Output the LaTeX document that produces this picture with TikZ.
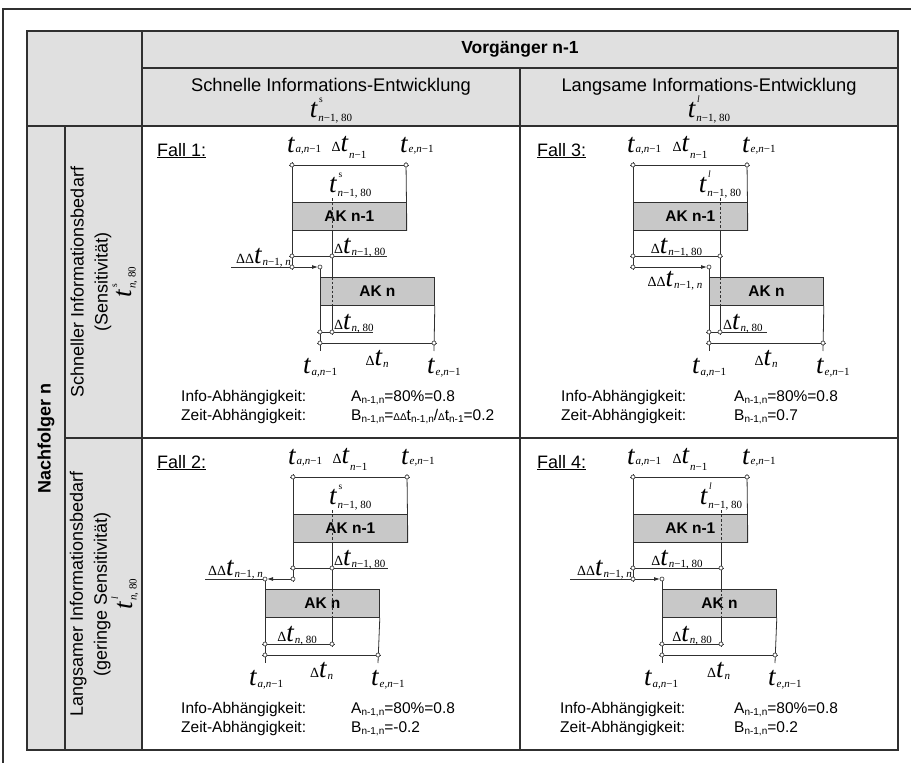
\documentclass[tikz,border=0pt]{standalone}
\usepackage{fontspec}
\setmainfont{Liberation Sans}
\newfontfamily\tms{Liberation Serif}
\usetikzlibrary{arrows.meta}

\definecolor{hdrgray}{HTML}{E0E0E0}
\definecolor{akgray}{HTML}{C8C8C8}
\definecolor{ink}{HTML}{303030}

\newcommand\fs[1]{\fontsize{#1}{#1}\selectfont}
\newcommand\sit[1]{{\itshape #1}}
% time symbol: [subscript drop]{prefix}{superscript}{subscript}
\newcommand\tsym[4][2pt]{\mbox{{\tms\fs{14}#2}{\tms\fs{27}\itshape t}\kern1pt\makebox[0pt][l]{\kern0.8pt\raisebox{14.5pt}{\tms\fs{9.5}#3}}\raisebox{-#1}{\tms\fs{11}#4}}}
\newcommand\ssub[1]{\raisebox{-2.5pt}{\fs{10}#1}}

\tikzset{
  tabline/.style={draw=ink, line width=1.2pt},
  ln/.style={draw=ink, line width=0.8pt},
  dsh/.style={ln, dash pattern=on 2.5pt off 2pt},
  akbox/.style={draw=ink, fill=akgray, line width=0.8pt, minimum width=114pt,
    minimum height=28pt, inner sep=0pt, anchor=north west, font=\fs{15.5}\bfseries},
  endpt/.style={circle, draw=ink, fill=white, inner sep=0pt, minimum size=4pt, line width=0.6pt},
  sym/.style={inner sep=0pt, anchor=base west},
  symc/.style={inner sep=0pt, anchor=base},
  syme/.style={inner sep=0pt, anchor=base east},
  txt/.style={inner sep=0pt, anchor=base west, font=\fs{15.5}},
  fall/.style={inner sep=0pt, anchor=base west, font=\fs{18}},
  hd/.style={inner sep=0pt, font=\fs{18.3}},
  arr/.style={ln, -{Latex[length=6pt,width=4pt]}, shorten >=2pt},
}

\begin{document}
\begin{tikzpicture}[x=1pt,y=-1pt]
\useasboundingbox (0,0) rectangle (911,763);

% outer frame
\draw[tabline] (3,763) -- (3,9) -- (911,9);

% table background and grid
\fill[hdrgray] (27,31) rectangle (898,126);
\fill[hdrgray] (27,126) rectangle (142,750);
\draw[tabline] (27,31) rectangle (898,750);
\draw[tabline] (142,68) -- (898,68);
\draw[tabline] (27,126) -- (898,126);
\draw[tabline] (65,438) -- (898,438);
\draw[tabline] (142,31) -- (142,750);
\draw[tabline] (520,68) -- (520,750);
\draw[tabline] (65,126) -- (65,750);

% column headings
\node[hd, font=\fs{17.5}\bfseries] (vg) at (520,49.5) {Vorgänger n-1};
\node[hd] (cs) at (331,87) {Schnelle Informations-Entwicklung};
\node[hd] (cl) at (709,87) {Langsame Informations-Entwicklung};
\node[symc] (cst) at (331,117) {\tsym[4pt]{}{s}{\sit{n}−1, 80}};
\node[symc] (clt) at (709,117) {\tsym[4pt]{}{\sit{l}}{\sit{n}−1, 80}};

% row headings
\node[rotate=90, inner sep=0pt, font=\fs{18}\bfseries] (nf) at (46,438) {Nachfolger n};
\node[rotate=90, inner sep=0pt, align=center, font=\fontsize{18}{24}\selectfont] (rs) at (104,282)
  {Schneller Informationsbedarf\\(Sensitivität)\\\tsym[4pt]{}{s}{\sit{n}, 80}};
\node[rotate=90, inner sep=0pt, align=center, font=\fontsize{18}{24}\selectfont] (rl) at (104,594)
  {Langsamer Informationsbedarf\\(geringe Sensitivität)\\\tsym[4pt]{}{\sit{l}}{\sit{n}, 80}};

%% ---------------- Fall 1 ----------------
\begin{scope}[shift={(142,126)}]
\coordinate (a1t) at (150,39);  \coordinate (b1t) at (264,39);
\coordinate (a1m) at (150,130); \coordinate (d1m) at (190,130); \coordinate (u1m) at (245,130);
\coordinate (l1a) at (89,141);  \coordinate (a1a) at (150,141); \coordinate (c1a) at (178,141);
\coordinate (d1top) at (190,72);
\coordinate (c1n) at (178,206); \coordinate (d1n) at (190,206); \coordinate (u1n) at (231,206);
\coordinate (c1b) at (178,217); \coordinate (e1b) at (292,217);
\node[akbox] (ak11) at (150,76) {AK n-1};
\node[akbox] (ak12) at (178,151) {AK n};
\draw[ln] ([xshift=-3pt]a1t) -- ([xshift=3pt]b1t);
\draw[ln] ([yshift=3pt]a1t) -- ([yshift=-3pt]a1a);
\draw[ln] ([yshift=3pt]b1t) -- (ak11.south east);
\draw[dsh] (d1top) -- (d1top |- ak11.south);
\draw[ln] (d1top |- ak11.south) -- (d1top |- ak12.north);
\draw[dsh] (d1top |- ak12.north) -- (d1top |- ak12.south);
\draw[ln] (d1top |- ak12.south) -- ([yshift=-3pt]d1n);
\draw[ln] ([xshift=-3pt]a1m) -- (u1m);
\draw[arr] (l1a) -- (c1a);
\draw[ln] (c1a) -- ([yshift=-8pt]c1b);
\draw[ln] (ak12.south east) -- ([yshift=-8pt]e1b);
\draw[ln] ([xshift=-3pt]c1n) -- (u1n);
\draw[ln] ([xshift=-3pt]c1b) -- ([xshift=3pt]e1b);
\foreach \p in {a1t,b1t,a1m,d1m,a1a,c1a,c1n,d1n,c1b,e1b} \node[endpt] (\p o) at (\p) {};
\node[fall] (f1) at (15,30) {\underline{Fall 1:}};
\node[sym] (ta1) at (145,26) {\tsym[0pt]{}{}{\sit{a,n}−1}};
\node[symc] (dt1) at (207,25) {\tsym[7pt]{Δ}{}{\sit{n}−1}};
\node[sym] (te1) at (258,26) {\tsym[0pt]{}{}{\sit{e,n}−1}};
\node[sym] (ts1) at (187,66) {\tsym[4pt]{}{s}{\sit{n}−1, 80}};
\node[sym] (dm1) at (192,127) {\tsym{Δ}{}{\sit{n}−1, 80}};
\node[syme] (dd1) at (149,137) {\tsym{ΔΔ}{}{\sit{n}−1, \sit{n}}};
\node[sym] (dn1) at (192,203) {\tsym{Δ}{}{\sit{n}, 80}};
\node[sym] (ba1) at (161,247) {\tsym{}{}{\sit{a,n}−1}};
\node[symc] (bd1) at (235,239) {\tsym{Δ}{}{\sit{n}}};
\node[sym] (be1) at (285,247) {\tsym{}{}{\sit{e,n}−1}};
\node[txt] (i1) at (39,275) {Info-Abhängigkeit:};
\node[txt] (z1) at (39,294) {Zeit-Abhängigkeit:};
\node[txt] (iv1) at (209,275) {A\ssub{n-1,n}=80\%=0.8};
\node[txt] (zv1) at (209,294) {B\ssub{n-1,n}={\fs{10}ΔΔ}t\ssub{n-1,n}/{\fs{10}Δ}t\ssub{n-1}=0.2};
\end{scope}

%% ---------------- Fall 3 ----------------
\begin{scope}[shift={(520,126)}]
\coordinate (a3t) at (113,39);  \coordinate (b3t) at (227,39);
\coordinate (a3m) at (113,130); \coordinate (d3m) at (200,130);
\coordinate (a3a) at (113,141); \coordinate (c3a) at (189,141);
\coordinate (d3top) at (200,72);
\coordinate (c3n) at (189,206); \coordinate (d3n) at (200,206); \coordinate (u3n) at (247,206);
\coordinate (c3b) at (189,217); \coordinate (e3b) at (303,217);
\node[akbox] (ak31) at (113,76) {AK n-1};
\node[akbox] (ak32) at (189,151) {AK n};
\draw[ln] ([xshift=-3pt]a3t) -- ([xshift=3pt]b3t);
\draw[ln] ([yshift=3pt]a3t) -- ([yshift=-3pt]a3a);
\draw[ln] ([yshift=3pt]b3t) -- (ak31.south east);
\draw[dsh] (d3top) -- (d3top |- ak31.south);
\draw[ln] (d3top |- ak31.south) -- (d3top |- ak32.north);
\draw[dsh] (d3top |- ak32.north) -- (d3top |- ak32.south);
\draw[ln] (d3top |- ak32.south) -- ([yshift=-3pt]d3n);
\draw[ln] ([xshift=-3pt]a3m) -- ([xshift=3pt]d3m);
\draw[arr] ([xshift=-3pt]a3a) -- (c3a);
\draw[ln] (c3a) -- ([yshift=-8pt]c3b);
\draw[ln] (ak32.south east) -- ([yshift=-8pt]e3b);
\draw[ln] ([xshift=-3pt]c3n) -- (u3n);
\draw[ln] ([xshift=-3pt]c3b) -- ([xshift=3pt]e3b);
\foreach \p in {a3t,b3t,a3m,d3m,a3a,c3a,c3n,d3n,c3b,e3b} \node[endpt] (\p o) at (\p) {};
\node[fall] (f3) at (17,30) {\underline{Fall 3:}};
\node[sym] (ta3) at (107,26) {\tsym[0pt]{}{}{\sit{a,n}−1}};
\node[symc] (dt3) at (170,25) {\tsym[7pt]{Δ}{}{\sit{n}−1}};
\node[sym] (te3) at (222,26) {\tsym[0pt]{}{}{\sit{e,n}−1}};
\node[symc] (ts3) at (200,66) {\tsym[4pt]{}{\sit{l}}{\sit{n}−1, 80}};
\node[symc] (dm3) at (156.5,127) {\tsym{Δ}{}{\sit{n}−1, 80}};
\node[symc] (dd3) at (155,160) {\tsym{ΔΔ}{}{\sit{n}−1, \sit{n}}};
\node[sym] (dn3) at (203,203) {\tsym{Δ}{}{\sit{n}, 80}};
\node[sym] (ba3) at (172,247) {\tsym{}{}{\sit{a,n}−1}};
\node[symc] (bd3) at (246,239) {\tsym{Δ}{}{\sit{n}}};
\node[sym] (be3) at (296,247) {\tsym{}{}{\sit{e,n}−1}};
\node[txt] (i3) at (41,275) {Info-Abhängigkeit:};
\node[txt] (z3) at (41,294) {Zeit-Abhängigkeit:};
\node[txt] (iv3) at (214,275) {A\ssub{n-1,n}=80\%=0.8};
\node[txt] (zv3) at (214,294) {B\ssub{n-1,n}=0.7};
\end{scope}

%% ---------------- Fall 2 ----------------
\begin{scope}[shift={(142,438)}]
\coordinate (a2t) at (151,39);  \coordinate (b2t) at (265,39);
\coordinate (a2m) at (151,130); \coordinate (d2m) at (190,130); \coordinate (u2m) at (246,130);
\coordinate (l2a) at (63,141);  \coordinate (a2a) at (151,141); \coordinate (c2a) at (123,141);
\coordinate (d2top) at (190,72);
\coordinate (c2n) at (123,206); \coordinate (d2n) at (190,206);
\coordinate (c2b) at (123,217); \coordinate (e2b) at (236,217);
\node[akbox] (ak21) at (151,76) {AK n-1};
\node[akbox] (ak22) at (123,151) {AK n};
\draw[ln] ([xshift=-3pt]a2t) -- ([xshift=3pt]b2t);
\draw[ln] ([yshift=3pt]a2t) -- ([yshift=-3pt]a2a);
\draw[ln] ([yshift=3pt]b2t) -- (ak21.south east);
\draw[dsh] (d2top) -- (d2top |- ak21.south);
\draw[ln] (d2top |- ak21.south) -- (d2top |- ak22.north);
\draw[dsh] (d2top |- ak22.north) -- (d2top |- ak22.south);
\draw[ln] (d2top |- ak22.south) -- ([yshift=-3pt]d2n);
\draw[ln] ([xshift=-3pt]a2m) -- (u2m);
\draw[arr] (a2a) -- (c2a);
\draw[ln] (c2a) -- (l2a);
\draw[ln] (c2a) -- ([yshift=-8pt]c2b);
\draw[ln] (ak22.south east) -- ([yshift=-8pt]e2b);
\draw[ln] ([xshift=-3pt]c2n) -- ([xshift=3pt]d2n);
\draw[ln] ([xshift=-3pt]c2b) -- ([xshift=3pt]e2b);
\foreach \p in {a2t,b2t,a2m,d2m,a2a,c2a,c2n,d2n,c2b,e2b} \node[endpt] (\p o) at (\p) {};
\node[fall] (f2) at (15,30) {\underline{Fall 2:}};
\node[sym] (ta2) at (146,26) {\tsym[0pt]{}{}{\sit{a,n}−1}};
\node[symc] (dt2) at (208,25) {\tsym[7pt]{Δ}{}{\sit{n}−1}};
\node[sym] (te2) at (259,26) {\tsym[0pt]{}{}{\sit{e,n}−1}};
\node[sym] (ts2) at (187,66) {\tsym[4pt]{}{s}{\sit{n}−1, 80}};
\node[sym] (dm2) at (192,127) {\tsym{Δ}{}{\sit{n}−1, 80}};
\node[syme] (dd2) at (121,137) {\tsym{ΔΔ}{}{\sit{n}−1, \sit{n}}};
\node[symc] (dn2) at (155,203) {\tsym{Δ}{}{\sit{n}, 80}};
\node[sym] (ba2) at (107,247) {\tsym{}{}{\sit{a,n}−1}};
\node[symc] (bd2) at (179.5,239) {\tsym{Δ}{}{\sit{n}}};
\node[sym] (be2) at (229,247) {\tsym{}{}{\sit{e,n}−1}};
\node[txt] (i2) at (39,275) {Info-Abhängigkeit:};
\node[txt] (z2) at (39,294) {Zeit-Abhängigkeit:};
\node[txt] (iv2) at (209,275) {A\ssub{n-1,n}=80\%=0.8};
\node[txt] (zv2) at (209,294) {B\ssub{n-1,n}=-0.2};
\end{scope}

%% ---------------- Fall 4 ----------------
\begin{scope}[shift={(520,438)}]
\coordinate (a4t) at (113,39);  \coordinate (b4t) at (227,39);
\coordinate (a4m) at (113,130); \coordinate (d4m) at (201,130);
\coordinate (l4a) at (50,141);  \coordinate (a4a) at (113,141); \coordinate (c4a) at (142,141);
\coordinate (d4top) at (201,72);
\coordinate (c4n) at (142,206); \coordinate (d4n) at (201,206);
\coordinate (c4b) at (142,217); \coordinate (e4b) at (255,217);
\node[akbox] (ak41) at (113,76) {AK n-1};
\node[akbox] (ak42) at (142,151) {AK n};
\draw[ln] ([xshift=-3pt]a4t) -- ([xshift=3pt]b4t);
\draw[ln] ([yshift=3pt]a4t) -- ([yshift=-3pt]a4a);
\draw[ln] ([yshift=3pt]b4t) -- (ak41.south east);
\draw[dsh] (d4top) -- (d4top |- ak41.south);
\draw[ln] (d4top |- ak41.south) -- (d4top |- ak42.north);
\draw[dsh] (d4top |- ak42.north) -- (d4top |- ak42.south);
\draw[ln] (d4top |- ak42.south) -- ([yshift=-3pt]d4n);
\draw[ln] ([xshift=-3pt]a4m) -- ([xshift=3pt]d4m);
\draw[arr] (l4a) -- (c4a);
\draw[ln] (c4a) -- ([yshift=-8pt]c4b);
\draw[ln] (ak42.south east) -- ([yshift=-8pt]e4b);
\draw[ln] ([xshift=-3pt]c4n) -- ([xshift=3pt]d4n);
\draw[ln] ([xshift=-3pt]c4b) -- ([xshift=3pt]e4b);
\foreach \p in {a4t,b4t,a4m,d4m,a4a,c4a,c4n,d4n,c4b,e4b} \node[endpt] (\p o) at (\p) {};
\node[fall] (f4) at (17,30) {\underline{Fall 4:}};
\node[sym] (ta4) at (107,26) {\tsym[0pt]{}{}{\sit{a,n}−1}};
\node[symc] (dt4) at (170,25) {\tsym[7pt]{Δ}{}{\sit{n}−1}};
\node[sym] (te4) at (222,26) {\tsym[0pt]{}{}{\sit{e,n}−1}};
\node[symc] (ts4) at (201,66) {\tsym[4pt]{}{\sit{l}}{\sit{n}−1, 80}};
\node[symc] (dm4) at (157,127) {\tsym{Δ}{}{\sit{n}−1, 80}};
\node[syme] (dd4) at (112,137) {\tsym{ΔΔ}{}{\sit{n}−1, \sit{n}}};
\node[symc] (dn4) at (172,203) {\tsym{Δ}{}{\sit{n}, 80}};
\node[sym] (ba4) at (124,247) {\tsym{}{}{\sit{a,n}−1}};
\node[symc] (bd4) at (198.5,239) {\tsym{Δ}{}{\sit{n}}};
\node[sym] (be4) at (248,247) {\tsym{}{}{\sit{e,n}−1}};
\node[txt] (i4) at (40,275) {Info-Abhängigkeit:};
\node[txt] (z4) at (40,294) {Zeit-Abhängigkeit:};
\node[txt] (iv4) at (214,275) {A\ssub{n-1,n}=80\%=0.8};
\node[txt] (zv4) at (214,294) {B\ssub{n-1,n}=0.2};
\end{scope}
\end{tikzpicture}
\end{document}
